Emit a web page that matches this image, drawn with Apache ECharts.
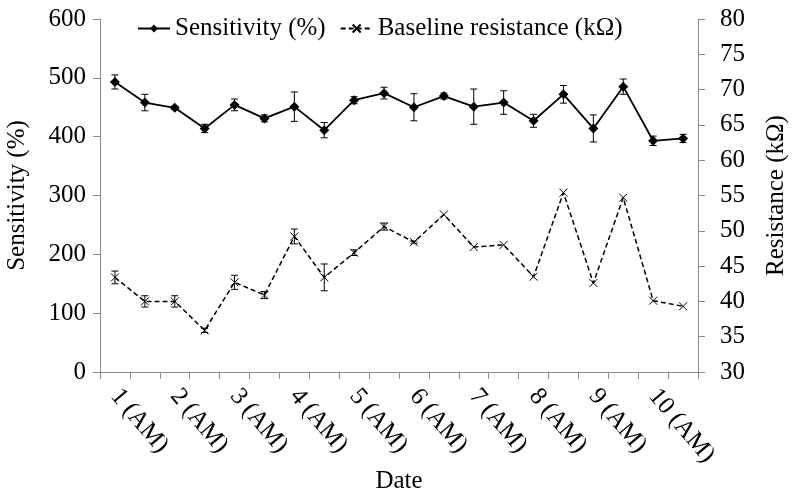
<!DOCTYPE html>
<html>
<head>
<meta charset="utf-8">
<script src="https://cdn.jsdelivr.net/npm/echarts@6/dist/echarts.min.js"></script>
<style>html,body{margin:0;padding:0;background:#fff}#c{width:800px;height:498px}</style>
</head>
<body>
<div id="c"></div>
<script>
const categories = ["1 (AM)","1 (PM)","2 (AM)","2 (PM)","3 (AM)","3 (PM)","4 (AM)","4 (PM)","5 (AM)","5 (PM)",
                    "6 (AM)","6 (PM)","7 (AM)","7 (PM)","8 (AM)","8 (PM)","9 (AM)","9 (PM)","10 (AM)","10 (PM)"];
const sensitivity = [493,458,449,414,454,431,451,411,462,474,450,469,451,458,427,472,414,485,393,397];
const sensitivityErr = [12,14,3,7,10,6,25,13,6,10,23,5,30,20,11,15,23,13,8,7];
const resistance = [43.4,40.0,40.0,35.9,42.7,40.9,49.2,43.4,46.9,50.6,48.4,52.3,47.7,48.0,43.5,55.4,42.6,54.7,40.1,39.3];
const resistanceErr = [0.9,0.8,0.8,0.3,1.0,0.5,1.05,1.9,0.4,0.5,0.15,0,0,0,0,0,0,0,0,0];
const leftTicks = {min:0, max:600, interval:100};
const rightTicks = {min:30, max:80, interval:5};

const FONT = '"Liberation Serif", "Times New Roman", serif';
const FS = 25;
const chart = echarts.init(document.getElementById('c'), null, {renderer:'canvas'});

function errRender(params, api) {
  const x = api.value(0), y = api.value(1), e = api.value(2);
  if (!e) return null;
  const t = api.coord([x, y + e]);
  const b = api.coord([x, y - e]);
  const hw = 3.5;
  const st = {stroke:'#000', lineWidth:1};
  return {type:'group', children:[
    {type:'line', shape:{x1:t[0], y1:t[1], x2:b[0], y2:b[1]}, style:st},
    {type:'line', shape:{x1:t[0]-hw, y1:t[1], x2:t[0]+hw, y2:t[1]}, style:st},
    {type:'line', shape:{x1:b[0]-hw, y1:b[1], x2:b[0]+hw, y2:b[1]}, style:st}
  ]};
}

const axisLineStyle = {color:'#8c8c8c', width:1};
const option = {
  animation:false,
  backgroundColor:'#fff',
  textStyle:{fontFamily:FONT},
  grid:{left:100, right:102, top:19, bottom:126, containLabel:false, outerBoundsMode:'none'},
  legend:{
    top:11, left:132, itemGap:14, itemWidth:32, itemHeight:10,
    textStyle:{fontFamily:FONT, fontSize:FS, color:'#000'},
    data:['Sensitivity (%)','Baseline resistance (kΩ)']
  },
  xAxis:{
    type:'category', data:categories, boundaryGap:true,
    name:'Date', nameLocation:'middle', nameGap:97, nameMoveOverlap:false,
    nameTextStyle:{fontFamily:FONT, fontSize:FS, color:'#000'},
    axisLine:{lineStyle:axisLineStyle},
    axisTick:{show:true, interval:0, length:7, lineStyle:axisLineStyle},
    axisLabel:{interval:1, rotate:-50, margin:20, fontFamily:FONT, fontSize:FS, color:'#000'},
    splitLine:{show:false}
  },
  yAxis:[
    {type:'value', min:leftTicks.min, max:leftTicks.max, interval:leftTicks.interval, position:'left',
     name:'Sensitivity (%)', nameLocation:'middle', nameGap:70, nameRotate:90,
     nameTextStyle:{fontFamily:FONT, fontSize:FS, color:'#000'},
     axisLine:{show:true, lineStyle:axisLineStyle},
     axisTick:{show:true, length:7, lineStyle:axisLineStyle},
     axisLabel:{margin:14, fontFamily:FONT, fontSize:FS, color:'#000'},
     splitLine:{show:false}},
    {type:'value', min:rightTicks.min, max:rightTicks.max, interval:rightTicks.interval, position:'right',
     name:'Resistance (kΩ)', nameLocation:'middle', nameGap:66, nameRotate:90,
     nameTextStyle:{fontFamily:FONT, fontSize:FS, color:'#000'},
     axisLine:{show:true, lineStyle:axisLineStyle},
     axisTick:{show:true, length:7, lineStyle:axisLineStyle},
     axisLabel:{margin:22, fontFamily:FONT, fontSize:FS, color:'#000'},
     splitLine:{show:false}}
  ],
  series:[
    {name:'Sensitivity (%)', type:'line', yAxisIndex:0, data:sensitivity,
     symbol:'diamond', symbolSize:10, showAllSymbol:true,
     lineStyle:{color:'#000', width:1.8}, itemStyle:{color:'#000'}, z:3},
    {name:'Baseline resistance (kΩ)', type:'line', yAxisIndex:1, data:resistance,
     symbol:'path://M0,0L10,10M10,0L0,10', symbolSize:8, showAllSymbol:true,
     lineStyle:{color:'#000', width:1.5, type:[5,3]},
     itemStyle:{color:'rgba(0,0,0,0)', borderColor:'#000', borderWidth:1}, z:3},
    {name:'sensErr', type:'custom', yAxisIndex:0, renderItem:errRender,
     data:categories.map((c,i)=>[i, sensitivity[i], sensitivityErr[i]]), z:2, silent:true},
    {name:'resErr', type:'custom', yAxisIndex:1, renderItem:errRender,
     data:categories.map((c,i)=>[i, resistance[i], resistanceErr[i]]), z:2, silent:true}
  ]
};
chart.setOption(option);
</script>
</body>
</html>
